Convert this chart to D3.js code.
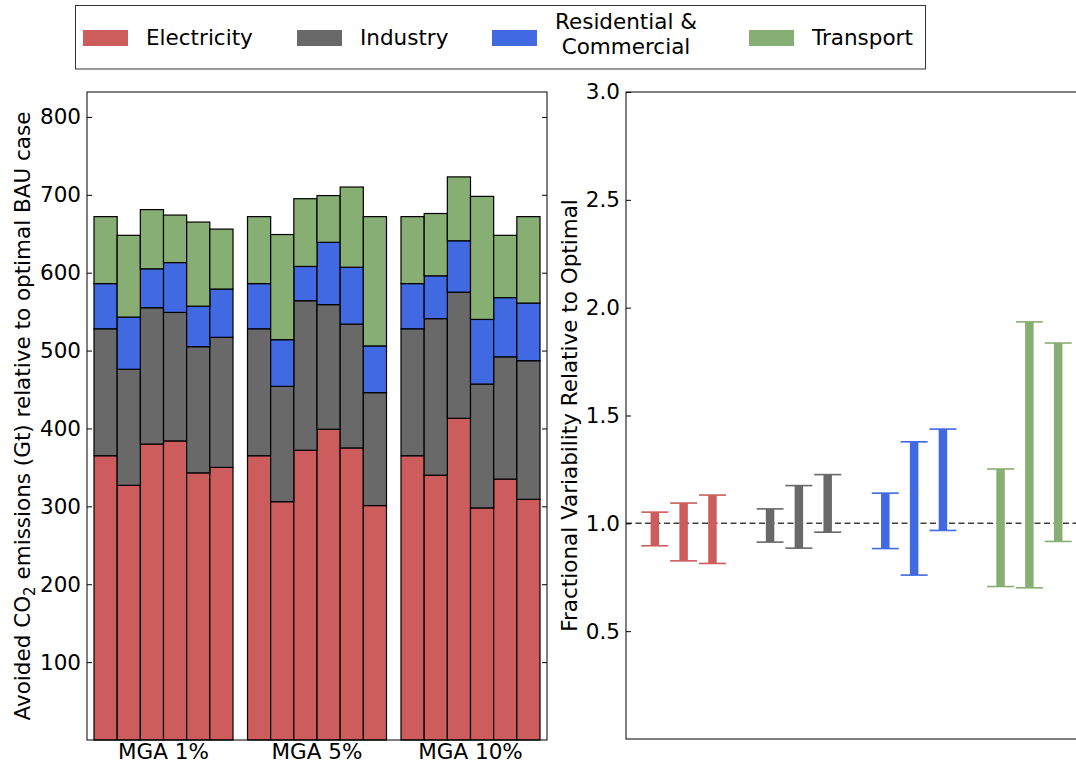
<!DOCTYPE html>
<html>
<head>
<meta charset="utf-8">
<script src="https://cdn.jsdelivr.net/npm/d3@7"></script>
<style>
  body { margin: 0; background: #fff; }
  svg { display: block; font-family: "DejaVu Sans", sans-serif; }
</style>
</head>
<body>
<svg id="chart" width="1076" height="764"></svg>
<script>
// scenarios and sectors
const scenarios = ['MGA 1%', 'MGA 5%', 'MGA 10%'];
const sectors = ['Electricity', 'Industry', 'Residential & Commercial', 'Transport'];
const sectorColors = ['#cd5c5c', '#696969', '#4169e1', '#87ae73'];

// avoided emissions (Gt), 6 bars per scenario
const electricity = [365, 327, 380, 384, 343, 350, 365, 306, 372, 399, 375, 301, 365, 340, 413, 298, 335, 309];
const industry = [163, 149, 175, 165, 162, 167, 163, 148, 192, 160, 159, 145, 163, 201, 162, 159, 157, 178];
const residential = [58, 67, 50, 64, 52, 62, 58, 60, 44, 80, 73, 60, 58, 55, 66, 83, 76, 74];
const transport = [86, 105, 76, 61, 108, 77, 86, 135, 87, 60, 103, 166, 86, 80, 82, 158, 80, 111];

// fractional variability relative to optimal (per sector, per scenario)
const varLow = [0.896, 0.826, 0.814, 0.913, 0.885, 0.959, 0.883, 0.760, 0.967, 0.707, 0.701, 0.916];
const varHigh = [1.052, 1.094, 1.131, 1.067, 1.175, 1.226, 1.140, 1.378, 1.437, 1.252, 1.934, 1.836];

const leftTicks = [100, 200, 300, 400, 500, 600, 700, 800];
const rightTicks = [0.5, 1.0, 1.5, 2.0, 2.5, 3.0];

const svg = d3.select('#chart');
const fs = 21.5;

// ---------- left: stacked bars ----------
const L = {left: 87, right: 547, top: 92, bottom: 740};
const groupScale = d3.scaleBand()
    .domain(scenarios)
    .range([L.left, L.right])
    .paddingInner(0.0945)
    .paddingOuter(0.0456);
const barScale = d3.scaleBand()
    .domain(d3.range(6))
    .range([0, groupScale.bandwidth()]);
const yL = d3.scaleLinear().domain([0, 832]).range([L.bottom, L.top]);

const barRows = electricity.map((e, i) => ({
    scenario: scenarios[Math.floor(i / 6)],
    slot: i % 6,
    Electricity: e,
    Industry: industry[i],
    'Residential & Commercial': residential[i],
    Transport: transport[i]
}));
const stacked = d3.stack().keys(sectors)(barRows);

const left = svg.append('g');
left.selectAll('g.layer')
    .data(stacked)
    .enter().append('g')
    .attr('fill', (d, i) => sectorColors[i])
    .selectAll('rect')
    .data(d => d)
    .enter().append('rect')
    .attr('x', d => groupScale(d.data.scenario) + barScale(d.data.slot))
    .attr('width', barScale.bandwidth())
    .attr('y', d => yL(d[1]))
    .attr('height', d => yL(d[0]) - yL(d[1]))
    .attr('stroke', '#000')
    .attr('stroke-width', 1.2);

// frame
left.append('rect')
    .attr('x', L.left).attr('y', L.top)
    .attr('width', L.right - L.left).attr('height', L.bottom - L.top)
    .attr('fill', 'none').attr('stroke', '#000').attr('stroke-width', 1);

const yAxisL = d3.axisLeft(yL).tickValues(leftTicks).tickSizeInner(-5).tickSizeOuter(0).tickPadding(6);
const gyL = left.append('g').attr('transform', `translate(${L.left},0)`).call(yAxisL);
gyL.select('.domain').remove();
gyL.selectAll('text').attr('font-size', fs).attr('fill', '#000').attr('font-family', 'DejaVu Sans');

const yAxisLR = d3.axisRight(yL).tickValues(leftTicks).tickSizeInner(-5).tickSizeOuter(0).tickFormat('');
const gyLR = left.append('g').attr('transform', `translate(${L.right},0)`).call(yAxisLR);
gyLR.select('.domain').remove();

// group labels
left.selectAll('text.grp')
    .data(scenarios)
    .enter().append('text')
    .attr('class', 'grp')
    .attr('x', d => groupScale(d) + groupScale.bandwidth() / 2)
    .attr('y', 759)
    .attr('text-anchor', 'middle')
    .attr('font-size', fs)
    .text(d => d);

const ylab = left.append('text')
    .attr('transform', `translate(30,${(L.top + L.bottom) / 2}) rotate(-90)`)
    .attr('text-anchor', 'middle')
    .attr('font-size', fs);
ylab.append('tspan').text('Avoided CO');
ylab.append('tspan').attr('font-size', 15).attr('dy', 5).text('2');
ylab.append('tspan').attr('dy', -5).text(' emissions (Gt) relative to optimal BAU case');

// ---------- right: variability ranges ----------
const R = {left: 626, right: 1087, top: 92, bottom: 739};
const xR = d3.scaleLinear().domain([0.5, 4.5]).range([R.left, R.right]);
const yR = d3.scaleLinear().domain([0, 3]).range([R.bottom, R.top]);
const offsets = [-0.25, 0, 0.25];

const ranges = varLow.map((lo, i) => ({
    sector: Math.floor(i / 3),
    scen: i % 3,
    lo: lo,
    hi: varHigh[i]
}));

const right = svg.append('g');
right.append('line')
    .attr('x1', R.left).attr('x2', R.right)
    .attr('y1', yR(1)).attr('y2', yR(1))
    .attr('stroke', '#000').attr('stroke-opacity', 0.75)
    .attr('stroke-width', 1.5).attr('stroke-dasharray', '6,3.5');

const eb = right.selectAll('g.eb')
    .data(ranges)
    .enter().append('g')
    .attr('stroke', d => sectorColors[d.sector]);
eb.append('line')
    .attr('x1', d => xR(d.sector + 1 + offsets[d.scen]))
    .attr('x2', d => xR(d.sector + 1 + offsets[d.scen]))
    .attr('y1', d => yR(d.lo)).attr('y2', d => yR(d.hi))
    .attr('stroke-width', 8.5);
['lo', 'hi'].forEach(k => {
    eb.append('line')
        .attr('x1', d => xR(d.sector + 1 + offsets[d.scen]) - 13.5)
        .attr('x2', d => xR(d.sector + 1 + offsets[d.scen]) + 13.5)
        .attr('y1', d => yR(d[k])).attr('y2', d => yR(d[k]))
        .attr('stroke-width', 1.6);
});

right.append('rect')
    .attr('x', R.left).attr('y', R.top)
    .attr('width', R.right - R.left).attr('height', R.bottom - R.top)
    .attr('fill', 'none').attr('stroke', '#000').attr('stroke-width', 1);

const yAxisR = d3.axisLeft(yR).tickValues(rightTicks).tickSizeInner(-5).tickSizeOuter(0).tickPadding(6)
    .tickFormat(d3.format('.1f'));
const gyR = right.append('g').attr('transform', `translate(${R.left},0)`).call(yAxisR);
gyR.select('.domain').remove();
gyR.selectAll('text').attr('font-size', fs).attr('fill', '#000').attr('font-family', 'DejaVu Sans');

right.append('text')
    .attr('transform', `translate(577,${(R.top + R.bottom) / 2}) rotate(-90)`)
    .attr('text-anchor', 'middle')
    .attr('font-size', fs)
    .text('Fractional Variability Relative to Optimal');

// ---------- legend ----------
const legend = svg.append('g');
legend.append('rect')
    .attr('x', 75.5).attr('y', 5.5).attr('width', 850).attr('height', 63.5)
    .attr('fill', '#fff').attr('stroke', '#333').attr('stroke-width', 1);
const legendX = [83, 297, 492, 749];
const item = legend.selectAll('g.item')
    .data(sectors)
    .enter().append('g')
    .attr('transform', (d, i) => `translate(${legendX[i]},0)`);
item.append('rect')
    .attr('y', 30).attr('width', 45).attr('height', 16)
    .attr('fill', (d, i) => sectorColors[i]);
item.each(function(d) {
    const g = d3.select(this);
    if (d.includes('&')) {
        const t = g.append('text').attr('text-anchor', 'middle').attr('font-size', fs);
        t.append('tspan').attr('x', 134).attr('y', 29).text('Residential &');
        t.append('tspan').attr('x', 134).attr('y', 54).text('Commercial');
    } else {
        g.append('text').attr('x', 63).attr('y', 45).attr('font-size', fs).text(d);
    }
});
</script>
</body>
</html>
